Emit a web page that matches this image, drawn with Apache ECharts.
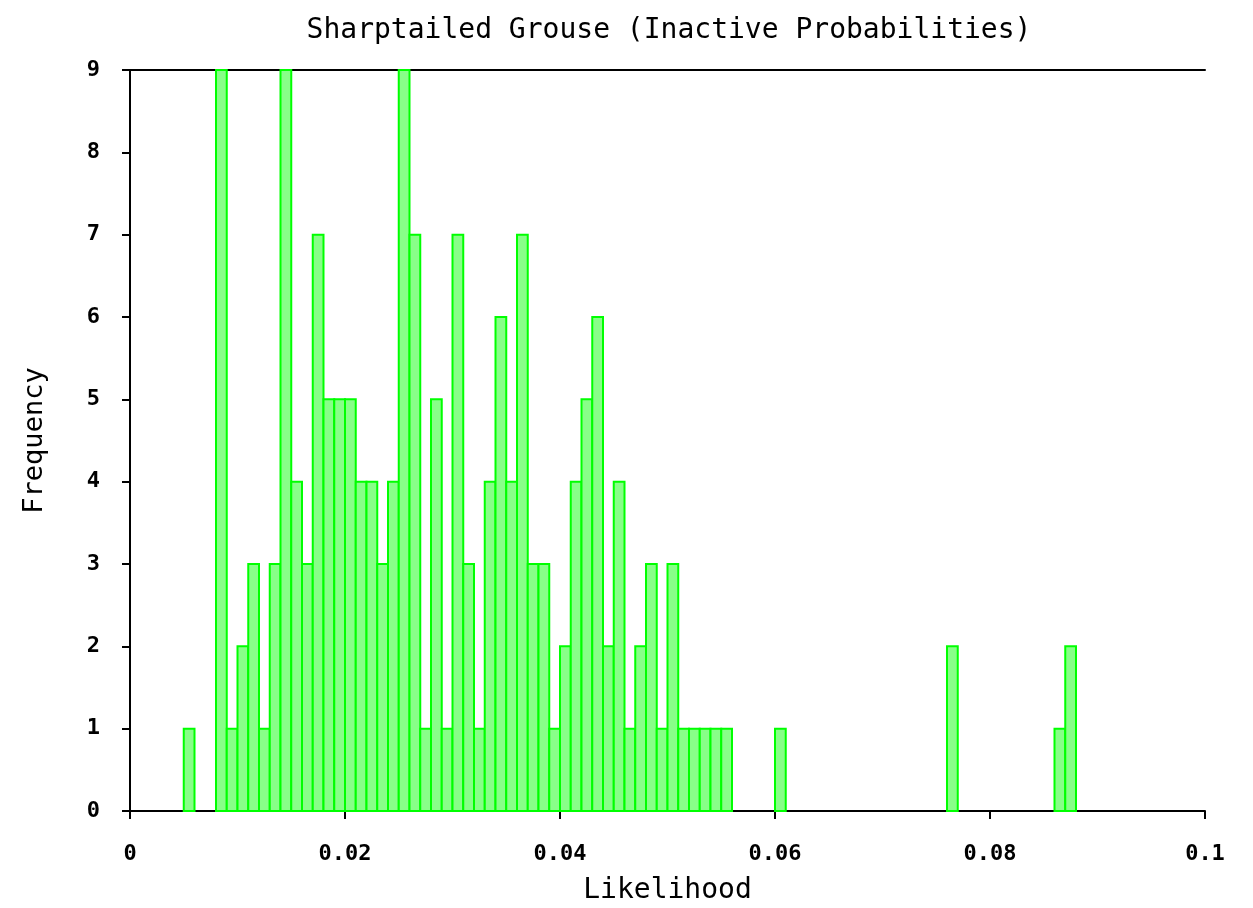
<!DOCTYPE html>
<html>
<head>
	<meta charset="utf-8">
	<title>Sharptailed Grouse</title>
	<style>
		body { margin: 0; background: #fff; }
		#chart { width: 1253px; height: 908px; }
	</style>
</head>
<body>
	<div id="chart"></div>
	<script src="https://cdn.jsdelivr.net/npm/echarts@6/dist/echarts.min.js"></script>
	<script>
		// histogram bins (lower edge) and counts, bin width 0.001
		var binWidth = 0.001;
		var binLow = [0.005, 0.008, 0.009, 0.010, 0.011, 0.012, 0.013, 0.014, 0.015, 0.016,
			0.017, 0.018, 0.019, 0.020, 0.021, 0.022, 0.023, 0.024, 0.025, 0.026,
			0.027, 0.028, 0.029, 0.030, 0.031, 0.032, 0.033, 0.034, 0.035, 0.036,
			0.037, 0.038, 0.039, 0.040, 0.041, 0.042, 0.043, 0.044, 0.045, 0.046,
			0.047, 0.048, 0.049, 0.050, 0.051, 0.052, 0.053, 0.054, 0.055, 0.060,
			0.076, 0.086, 0.087];
		var freq = [1, 9, 1, 2, 3, 1, 3, 9, 4, 3,
			7, 5, 5, 5, 4, 4, 3, 4, 9, 7,
			1, 5, 1, 7, 3, 1, 4, 6, 4, 7,
			3, 3, 1, 2, 4, 5, 6, 2, 4, 1,
			2, 3, 1, 3, 1, 1, 1, 1, 1, 1,
			2, 1, 2];
		var xTicks = ['0', '0.02', '0.04', '0.06', '0.08', '0.1'];

		var data = [];
		for (var i = 0; i < binLow.length; i++) {
			data.push([binLow[i], binLow[i] + binWidth, freq[i]]);
		}

		var font = 'DejaVu Sans Mono';
		var chart = echarts.init(document.getElementById('chart'));
		chart.setOption({
			animation: false,
			title: {
				text: 'Sharptailed Grouse (Inactive Probabilities)',
				left: 664,
				textAlign: 'center',
				top: 12,
				textStyle: { fontFamily: font, fontSize: 28, fontWeight: 'normal', color: '#000' }
			},
			grid: { left: 130, right: 48, top: 70, bottom: 97, containLabel: false, outerBoundsMode: 'none' },
			xAxis: [{
				type: 'value',
				min: 0,
				max: 0.1,
				interval: 0.02,
				name: 'Likelihood',
				nameLocation: 'middle',
				nameGap: 66,
				nameTextStyle: { fontFamily: font, fontSize: 28, color: '#000' },
				axisLine: { lineStyle: { color: '#000', width: 2 } },
				axisTick: { length: 8, lineStyle: { color: '#000', width: 2 } },
				axisLabel: {
					margin: 32,
					fontFamily: font, fontSize: 22, fontWeight: 'bold', color: '#000',
					formatter: function(v) { return xTicks[Math.round(v / 0.02)]; }
				},
				splitLine: { show: false }
			}, {
				type: 'value',
				position: 'top',
				min: 0,
				max: 0.1,
				axisLine: { show: true, lineStyle: { color: '#000', width: 2 } },
				axisTick: { show: false },
				axisLabel: { show: false },
				splitLine: { show: false }
			}],
			yAxis: {
				type: 'value',
				min: 0,
				max: 9,
				interval: 1,
				name: 'Frequency',
				nameLocation: 'middle',
				nameGap: 82,
				nameTextStyle: { fontFamily: font, fontSize: 27, color: '#000' },
				axisLine: { show: true, lineStyle: { color: '#000', width: 2 } },
				axisTick: { show: true, length: 8, lineStyle: { color: '#000', width: 2 } },
				axisLabel: { margin: 30, fontFamily: font, fontSize: 22, fontWeight: 'bold', color: '#000' },
				splitLine: { show: false }
			},
			series: [{
				type: 'custom',
				xAxisIndex: 0,
				encode: { x: [0, 1], y: 2 },
				data: data,
				renderItem: function(params, api) {
					var p0 = api.coord([api.value(0), 0]);
					var p1 = api.coord([api.value(1), api.value(2)]);
					return {
						type: 'rect',
						shape: { x: p0[0], y: p1[1], width: p1[0] - p0[0], height: p0[1] - p1[1] },
						style: { fill: '#88ff88', stroke: '#00ff00', lineWidth: 2 }
					};
				}
			}]
		});
	</script>
</body>
</html>
